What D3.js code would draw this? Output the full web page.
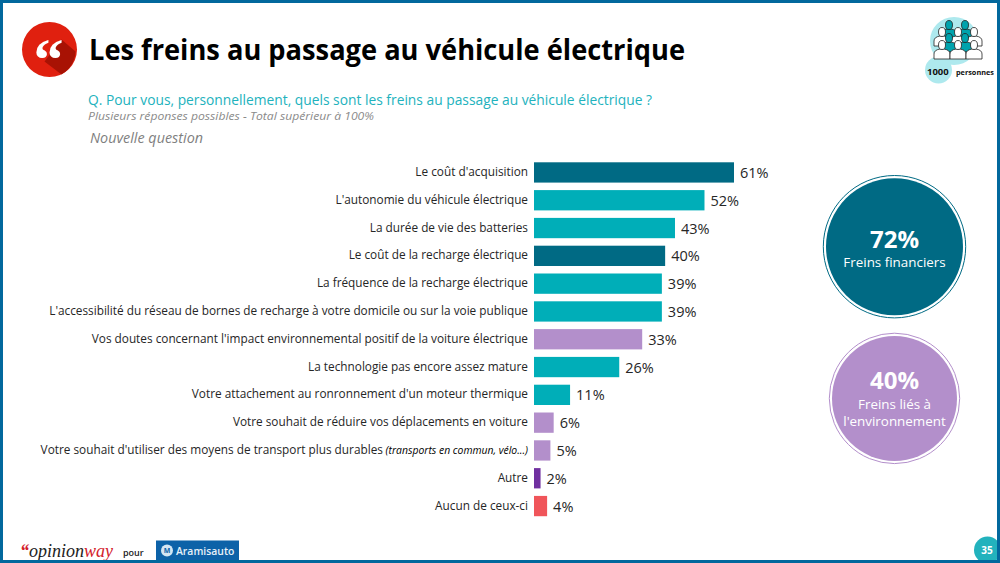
<!DOCTYPE html>
<html>
<head>
<meta charset="utf-8">
<script src="https://d3js.org/d3.v7.min.js"></script>
<style>
  html, body { margin: 0; padding: 0; background: #fff; }
  text { font-family: "Open Sans", "Noto Sans", sans-serif; }
</style>
</head>
<body>
<script>
var categories = [
  "Le coût d'acquisition",
  "L'autonomie du véhicule électrique",
  "La durée de vie des batteries",
  "Le coût de la recharge électrique",
  "La fréquence de la recharge électrique",
  "L'accessibilité du réseau de bornes de recharge à votre domicile ou sur la voie publique",
  "Vos doutes concernant l'impact environnemental positif de la voiture électrique",
  "La technologie pas encore assez mature",
  "Votre attachement au ronronnement d'un moteur thermique",
  "Votre souhait de réduire vos déplacements en voiture",
  "Votre souhait d'utiliser des moyens de transport plus durables",
  "Autre",
  "Aucun de ceux-ci"
];
var values = [61, 52, 43, 40, 39, 39, 33, 26, 11, 6, 5, 2, 4];
var groups = ["fin", "aut", "aut", "fin", "aut", "aut", "env", "aut", "aut", "env", "env", "oth", "none"];
var groupColors = { fin: "#006a84", aut: "#00aeb8", env: "#b38fcb", oth: "#7030a0", none: "#f0555a" };
var labelNote = "(transports en commun, vélo...)";

var width = 1000, height = 563;
var svg = d3.select("body").append("svg")
  .attr("width", width).attr("height", height)
  .style("display", "block");

// quote badge
var badge = svg.append("g").attr("transform", "translate(49.5,49.5)");
badge.append("circle").attr("r", 27.5).attr("fill", "#e0200f");
badge.append("path").attr("d", "M-5,12 L12,-10 L26,2 A27.5,27.5 0 0 1 12,25 Z").attr("fill", "#a81204");
badge.append("text").attr("x", -1).attr("y", 30).attr("text-anchor", "middle")
  .attr("fill", "#fff").attr("font-size", 60).attr("font-weight", 700)
  .style("font-family", "'Liberation Serif', serif").text("“");

svg.append("text").attr("x", 89).attr("y", 60)
  .attr("font-size", 28.5).attr("font-weight", 700).attr("fill", "#000")
  .attr("textLength", 596).attr("lengthAdjust", "spacingAndGlyphs")
  .text("Les freins au passage au véhicule électrique");

svg.append("text").attr("x", 88).attr("y", 104.5)
  .attr("font-size", 14.2).attr("fill", "#22b2bd")
  .attr("textLength", 564).attr("lengthAdjust", "spacingAndGlyphs")
  .text("Q. Pour vous, personnellement, quels sont les freins au passage au véhicule électrique ?");
svg.append("text").attr("x", 88).attr("y", 120)
  .attr("font-size", 11.5).attr("font-style", "italic").attr("fill", "#8a8a8a")
  .attr("textLength", 286).attr("lengthAdjust", "spacingAndGlyphs")
  .text("Plusieurs réponses possibles - Total supérieur à 100%");
svg.append("text").attr("x", 90).attr("y", 143)
  .attr("font-size", 14.5).attr("font-style", "italic").attr("fill", "#7f7f7f")
  .attr("textLength", 113).attr("lengthAdjust", "spacingAndGlyphs")
  .text("Nouvelle question");

// bars
var x = d3.scaleLinear().domain([0, 61]).range([534, 734]);
var y = d3.scaleBand().domain(categories).range([158.4, 520.1]).paddingInner(0.27).paddingOuter(0.14);

svg.append("g").selectAll("rect").data(categories).enter().append("rect")
  .attr("x", x(0))
  .attr("y", function (d) { return y(d); })
  .attr("width", function (d, i) { return x(values[i]) - x(0); })
  .attr("height", y.bandwidth())
  .attr("fill", function (d, i) { return groupColors[groups[i]]; });

var labels = svg.append("g").selectAll("text").data(categories).enter().append("text")
  .attr("x", 528)
  .attr("y", function (d) { return y(d) + y.bandwidth() / 2 + 3.5; })
  .attr("text-anchor", "end")
  .attr("font-size", 11.8)
  .attr("fill", "#262626")
  .text(function (d) { return d; });
labels.filter(function (d, i) { return i === 10; }).append("tspan")
  .attr("font-size", 10.4).attr("font-style", "italic").attr("fill", "#000")
  .text(" " + labelNote);

svg.append("g").selectAll("text").data(categories).enter().append("text")
  .attr("x", function (d, i) { return x(values[i]) + 6; })
  .attr("y", function (d) { return y(d) + y.bandwidth() / 2 + 5.5; })
  .attr("font-size", 14.5)
  .attr("fill", "#262626")
  .text(function (d, i) { return values[i] + "%"; });

// side circles
var sideValues = ["72%", "40%"];
var sideLines = [["Freins financiers"], ["Freins liés à", "l'environnement"]];
var sideColors = ["#006a84", "#b38fcb"];
var sideCenters = [[894.5, 246.7], [894.5, 398.4]];
var sideRadii = [68.5, 62.5];
sideValues.forEach(function (v, i) {
  var g = svg.append("g").attr("transform", "translate(" + sideCenters[i] + ")");
  g.append("circle").attr("r", sideRadii[i] + 2.7).attr("fill", "#fff").attr("stroke", sideColors[i]).attr("stroke-width", 1);
  g.append("circle").attr("r", sideRadii[i]).attr("fill", sideColors[i]);
  g.append("text").attr("text-anchor", "middle").attr("y", i === 0 ? 1 : -9)
    .attr("fill", "#fff").attr("font-size", 24).attr("font-weight", 700).text(v);
  sideLines[i].forEach(function (t, j) {
    g.append("text").attr("text-anchor", "middle").attr("y", (i === 0 ? 20 : 11) + j * 17)
      .attr("fill", "#fff").attr("font-size", 13.4).text(t);
  });
});

// respondents icon
var icon = svg.append("g");
icon.append("circle").attr("cx", 954).attr("cy", 41).attr("r", 24).attr("fill", "#aee9ee");
icon.append("circle").attr("cx", 938.5).attr("cy", 70).attr("r", 13.5).attr("fill", "#aee9ee");
var people = [[949, 25, "#00a3ad"], [965, 25, "#00a3ad"], [942, 32, "#fff"], [958, 32, "#fff"], [974, 32, "#fff"],
  [949, 38, "#00a3ad"], [965, 38, "#00a3ad"], [942, 45, "#fff"], [958, 45, "#fff"], [974, 45, "#fff"]];
people.forEach(function (p) {
  var g = icon.append("g").attr("transform", "translate(" + p[0] + "," + p[1] + ")");
  g.append("path").attr("d", "M-8,14 V9 Q-8,5 -2,4 H2 Q8,5 8,9 V14 Z")
    .attr("fill", p[2]).attr("stroke", "#222").attr("stroke-width", 0.8);
  g.append("ellipse").attr("rx", 3.5).attr("ry", 4.5)
    .attr("fill", p[2]).attr("stroke", "#222").attr("stroke-width", 0.8);
});
icon.append("text").attr("x", 927).attr("y", 74.5).attr("font-size", 9.5).attr("font-weight", 700).attr("fill", "#111").text("1000");
icon.append("text").attr("x", 956).attr("y", 74.5).attr("font-size", 7.3).attr("font-weight", 700).attr("fill", "#111").text("personnes");

// footer
var logo = svg.append("text").attr("x", 20).attr("y", 557).attr("font-size", 18).attr("font-style", "italic")
  .style("font-family", "'Liberation Serif', serif");
logo.append("tspan").attr("fill", "#d3202a").attr("font-weight", 700).text("“");
logo.append("tspan").attr("fill", "#222").text("opinion");
logo.append("tspan").attr("fill", "#d3202a").text("way");
svg.append("text").attr("x", 123).attr("y", 556).attr("font-size", 9).attr("font-weight", 600).attr("fill", "#222").text("pour");
svg.append("rect").attr("x", 156).attr("y", 540.5).attr("width", 83).attr("height", 20).attr("fill", "#0d62a8");
svg.append("circle").attr("cx", 167).attr("cy", 550.5).attr("r", 6).attr("fill", "#d5e6f3");
svg.append("text").attr("x", 167).attr("y", 553).attr("text-anchor", "middle").attr("font-size", 7).attr("font-weight", 700).attr("fill", "#0d62a8").text("M");
svg.append("text").attr("x", 176).attr("y", 555).attr("font-size", 10.4).attr("font-weight", 600).attr("fill", "#e8f1f8").text("Aramisauto");

// page number
svg.append("circle").attr("cx", 987.5).attr("cy", 550).attr("r", 13.5).attr("fill", "#22b2bd");
svg.append("text").attr("x", 987).attr("y", 554).attr("text-anchor", "middle").attr("font-size", 10).attr("font-weight", 700).attr("fill", "#fff").text("35");

// frame
svg.append("rect").attr("x", 1.5).attr("y", 1.5).attr("width", 997).attr("height", 560)
  .attr("fill", "none").attr("stroke", "#02689d").attr("stroke-width", 3);
</script>
</body>
</html>
